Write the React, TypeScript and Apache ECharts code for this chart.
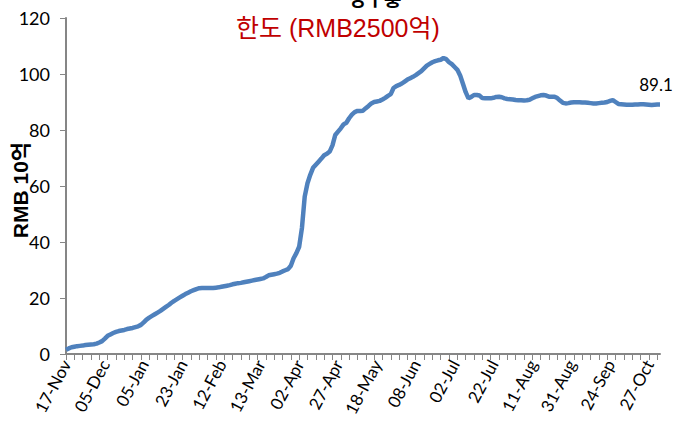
import React, { useEffect, useRef } from "react";
import * as echarts from "echarts";

const tickLabels = [
  "17-Nov", "05-Dec", "05-Jan", "23-Jan", "12-Feb", "13-Mar", "02-Apr", "27-Apr",
  "18-May", "08-Jun", "02-Jul", "22-Jul", "11-Aug", "31-Aug", "24-Sep", "27-Oct",
];

const usedQuota = [
  1.5, 2.0, 2.4, 2.6, 2.8, 2.9, 3.0, 3.2, 3.3, 3.4,
  3.5, 3.7, 4.1, 4.6, 5.5, 6.5, 7.0, 7.5, 7.9, 8.2,
  8.4, 8.6, 8.9, 9.1, 9.3, 9.6, 9.9, 10.4, 11.3, 12.3,
  13.0, 13.6, 14.2, 14.8, 15.4, 16.1, 16.8, 17.5, 18.3, 19.0,
  19.6, 20.2, 20.8, 21.4, 21.9, 22.4, 22.8, 23.2, 23.5, 23.6,
  23.6, 23.6, 23.6, 23.6, 23.7, 23.8, 24.0, 24.2, 24.4, 24.6,
  24.9, 25.1, 25.3, 25.4, 25.6, 25.8, 26.0, 26.2, 26.4, 26.6,
  26.8, 27.0, 27.5, 28.1, 28.3, 28.5, 28.7, 29.0, 29.5, 29.9,
  30.3, 31.5, 34.2, 36.0, 38.3, 45.0, 56.2, 61.0, 64.0, 66.5,
  67.6, 68.7, 69.8, 71.0, 71.5, 72.3, 74.5, 78.2, 79.4, 80.6,
  82.0, 82.6, 84.2, 85.5, 86.4, 86.8, 86.8, 86.9, 87.8, 88.6,
  89.5, 90.0, 90.2, 90.4, 90.9, 91.5, 92.2, 92.8, 95.0, 95.7,
  96.1, 96.6, 97.3, 98.0, 98.5, 99.0, 99.6, 100.3, 101.0, 102.0,
  103.0, 103.6, 104.2, 104.6, 104.9, 105.1, 105.7, 105.3, 104.2, 103.5,
  102.5, 101.5, 99.5, 96.5, 93.5, 91.3, 91.8, 92.5, 92.5, 92.3,
  91.4, 91.3, 91.3, 91.3, 91.5, 91.8, 91.9, 91.7, 91.3, 91.1,
  91.0, 90.9, 90.7, 90.6, 90.6, 90.5, 90.6, 90.8, 91.3, 91.8,
  92.1, 92.4, 92.5, 92.3, 91.9, 91.9, 91.9, 91.4, 90.5, 89.7,
  89.5, 89.6, 89.8, 89.9, 89.9, 89.9, 89.8, 89.8, 89.7, 89.6,
  89.5, 89.5, 89.6, 89.7, 89.8, 90.0, 90.4, 90.7, 90.0, 89.3,
  89.2, 89.1, 89.0, 89.0, 89.0, 89.1, 89.1, 89.2, 89.2, 89.1,
  89.0, 88.9, 89.0, 89.1, 89.1,
];

const LABEL_STEP = 14;
const categories = usedQuota.map((_, i) => String(i));

export default function App() {
  const ref = useRef<HTMLDivElement>(null);
  useEffect(() => {
    if (!ref.current) return;
    const chart = echarts.init(ref.current, null, { renderer: "svg" });
    const last = usedQuota.length - 1;
    const font = "Lato, 'Noto Sans', sans-serif";
    chart.setOption({
      animation: false,
      backgroundColor: "#ffffff",
      grid: { left: 66, right: 17, top: 18, bottom: 86, containLabel: false, outerBoundsMode: "none" },
      graphic: [
        {
          type: "text",
          left: 349,
          top: -12,
          style: { text: "강구퉁", fontSize: 19, fontWeight: "bold", fill: "#000", fontFamily: "'Noto Sans CJK KR', sans-serif" },
        },
        {
          type: "text",
          left: 236,
          top: 15,
          style: { text: "한도 (RMB2500억)", fontSize: 25, fill: "#c00000", fontFamily: "'Liberation Sans', 'Noto Sans CJK KR', sans-serif" },
        },
        {
          type: "text",
          x: 20,
          y: 190,
          rotation: Math.PI / 2,
          z: 10,
          style: {
            text: "RMB 10억",
            fontSize: 21,
            fontWeight: "bold",
            fill: "#000",
            align: "center",
            verticalAlign: "middle",
            fontFamily: "'Liberation Sans', 'Noto Sans CJK KR', sans-serif",
          },
        },
      ],
      xAxis: {
        type: "category",
        data: categories,
        boundaryGap: false,
        axisLine: { lineStyle: { color: "#868686", width: 2 } },
        axisTick: { show: true, interval: 2, length: 6, lineStyle: { color: "#868686", width: 1 } },
        axisLabel: {
          interval: LABEL_STEP - 1,
          rotate: 62,
          fontSize: 17,
          color: "#000",
          fontFamily: font,
          margin: 7,
          formatter: (_v: string, idx: number) => (idx % LABEL_STEP === 0 ? tickLabels[idx / LABEL_STEP] ?? "" : ""),
        },
        splitLine: { show: false },
      },
      yAxis: {
        type: "value",
        min: 0,
        max: 120,
        interval: 20,
        axisLine: { show: true, lineStyle: { color: "#868686", width: 2 } },
        axisTick: { show: true, length: 6, lineStyle: { color: "#868686", width: 1 } },
        axisLabel: { fontSize: 18, color: "#000", fontFamily: font, margin: 16 },
        splitLine: { show: false },
      },
      series: [
        {
          type: "line",
          data: usedQuota.map((v, i) =>
            i === last
              ? {
                  value: v,
                  label: {
                    show: true,
                    position: "top",
                    distance: 12,
                    offset: [-4, 0],
                    fontSize: 17,
                    color: "#000",
                    fontFamily: font,
                    formatter: (p: any) => Number(p.value).toFixed(1),
                  },
                }
              : v
          ),
          showSymbol: true,
          symbol: "circle",
          symbolSize: 0,
          lineStyle: { color: "#4f81bd", width: 4.5 },
          itemStyle: { color: "#4f81bd" },
        },
      ],
    });
    return () => chart.dispose();
  }, []);
  return <div ref={ref} style={{ position: "absolute", left: 0, top: 0, width: 677, height: 440 }} />;
}
